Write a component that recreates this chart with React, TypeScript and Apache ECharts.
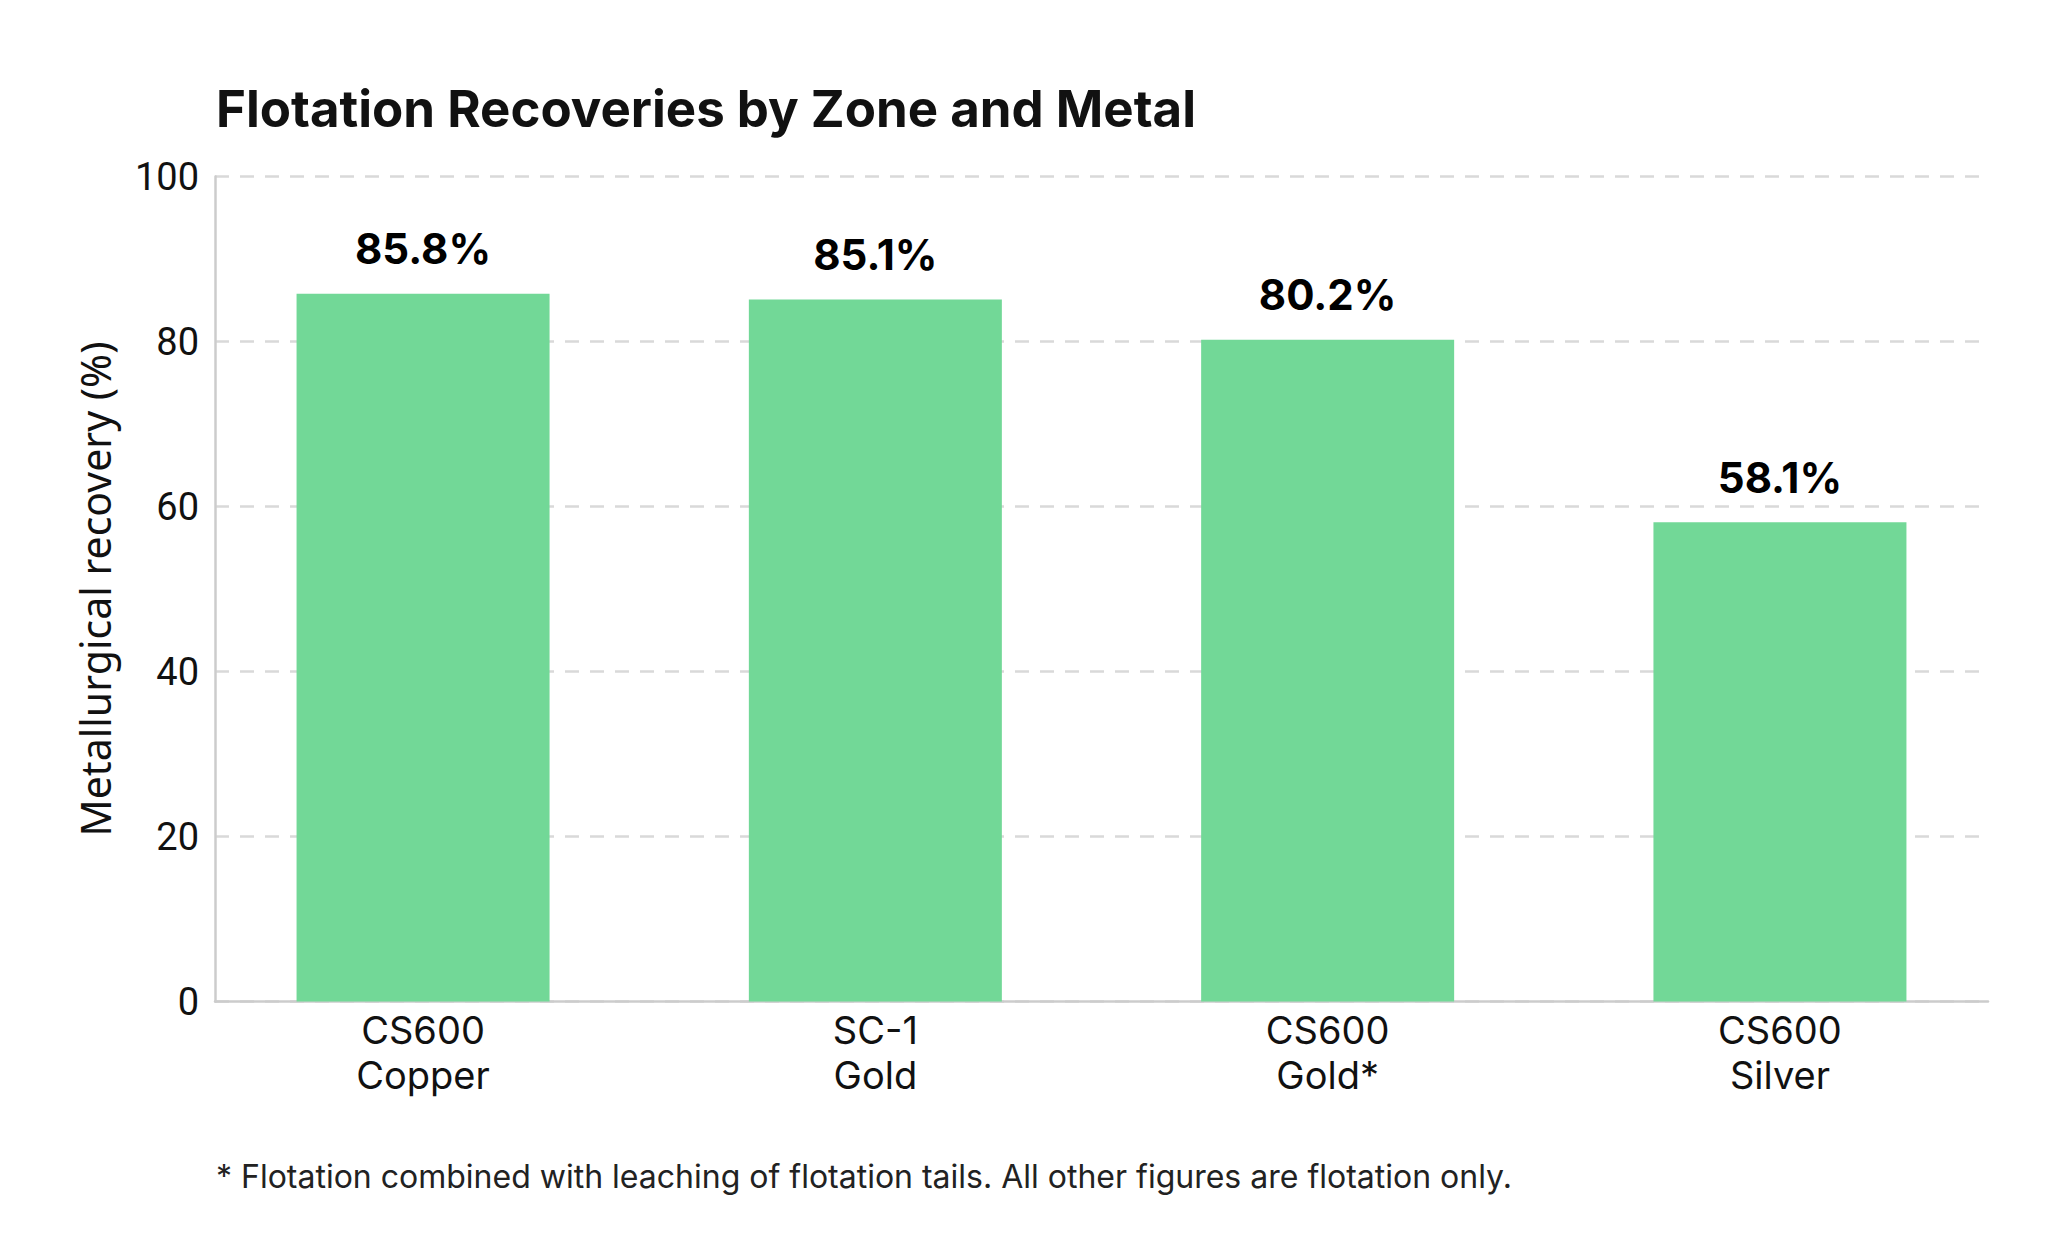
import React, { useEffect, useRef } from "react";
import * as echarts from "echarts";

const zones = ["CS600", "SC-1", "CS600", "CS600"];
const metals = ["Copper", "Gold", "Gold*", "Silver"];
const recoveries = [85.8, 85.1, 80.2, 58.1];
const yTicks = [0, 20, 40, 60, 80, 100];

const titleText = "Flotation Recoveries by Zone and Metal";
const yAxisName = "Metallurgical recovery (%)";
const footnote = "* Flotation combined with leaching of flotation tails. All other figures are flotation only.";

export default function App() {
  const ref = useRef<HTMLDivElement>(null);
  useEffect(() => {
    document.body.style.margin = "0";
    const chart = echarts.init(ref.current!, null, { renderer: "svg" });
    const option: any = {
      animation: false,
      backgroundColor: "#ffffff",
      grid: { left: 215, right: 60, top: 176.5, bottom: 250.5, containLabel: false },
      graphic: [
        {
          type: "text",
          left: 216,
          top: 83,
          style: {
            text: titleText,
            fontFamily: "Inter",
            fontWeight: "bold",
            fontSize: 51,
            fill: "#111111",
          },
        },
        {
          type: "text",
          left: 216,
          top: 1160,
          style: {
            text: footnote,
            fontFamily: "Inter",
            fontSize: 32,
            fill: "#222222",
          },
        },
      ],
      xAxis: {
        type: "value",
        min: -0.46,
        max: 3.46,
        axisLine: { show: true, onZero: false, lineStyle: { color: "#cccccc", width: 2.5 } },
        axisTick: { show: false },
        splitLine: { show: false },
        axisLabel: {
          customValues: zones.map((_, i) => i),
          formatter: (v: number) => `${zones[Math.round(v)]}\n${metals[Math.round(v)]}`,
          fontFamily: "Inter",
          fontSize: 38,
          lineHeight: 45,
          color: "#111111",
          margin: 6,
        },
      },
      yAxis: {
        type: "value",
        min: yTicks[0],
        max: yTicks[yTicks.length - 1],
        interval: 20,
        name: yAxisName,
        nameLocation: "middle",
        nameGap: 100,
        nameTextStyle: { fontFamily: "Noto Sans", fontSize: 41, color: "#111111" },
        axisLine: { show: true, onZero: false, lineStyle: { color: "#cccccc", width: 2.5 } },
        axisTick: { show: false },
        axisLabel: { fontFamily: "Roboto", fontSize: 38, color: "#111111", margin: 16 },
        splitLine: { show: true, lineStyle: { color: "#d9d9d9", width: 2.5, type: [14, 11] } },
      },
      series: [
        {
          type: "bar",
          data: recoveries.map((v, i) => [i, v]),
          barWidth: 253,
          itemStyle: { color: "#72d897" },
          label: {
            show: true,
            position: "top",
            distance: 24,
            formatter: (p: any) => `${p.value[1].toFixed(1)}%`,
            fontFamily: "Inter",
            fontWeight: "bold",
            fontSize: 42,
            color: "#000000",
          },
        },
      ],
    };
    chart.setOption(option);
    return () => chart.dispose();
  }, []);
  return <div ref={ref} style={{ position: "fixed", left: 0, top: 0, width: 2048, height: 1252 }} />;
}
